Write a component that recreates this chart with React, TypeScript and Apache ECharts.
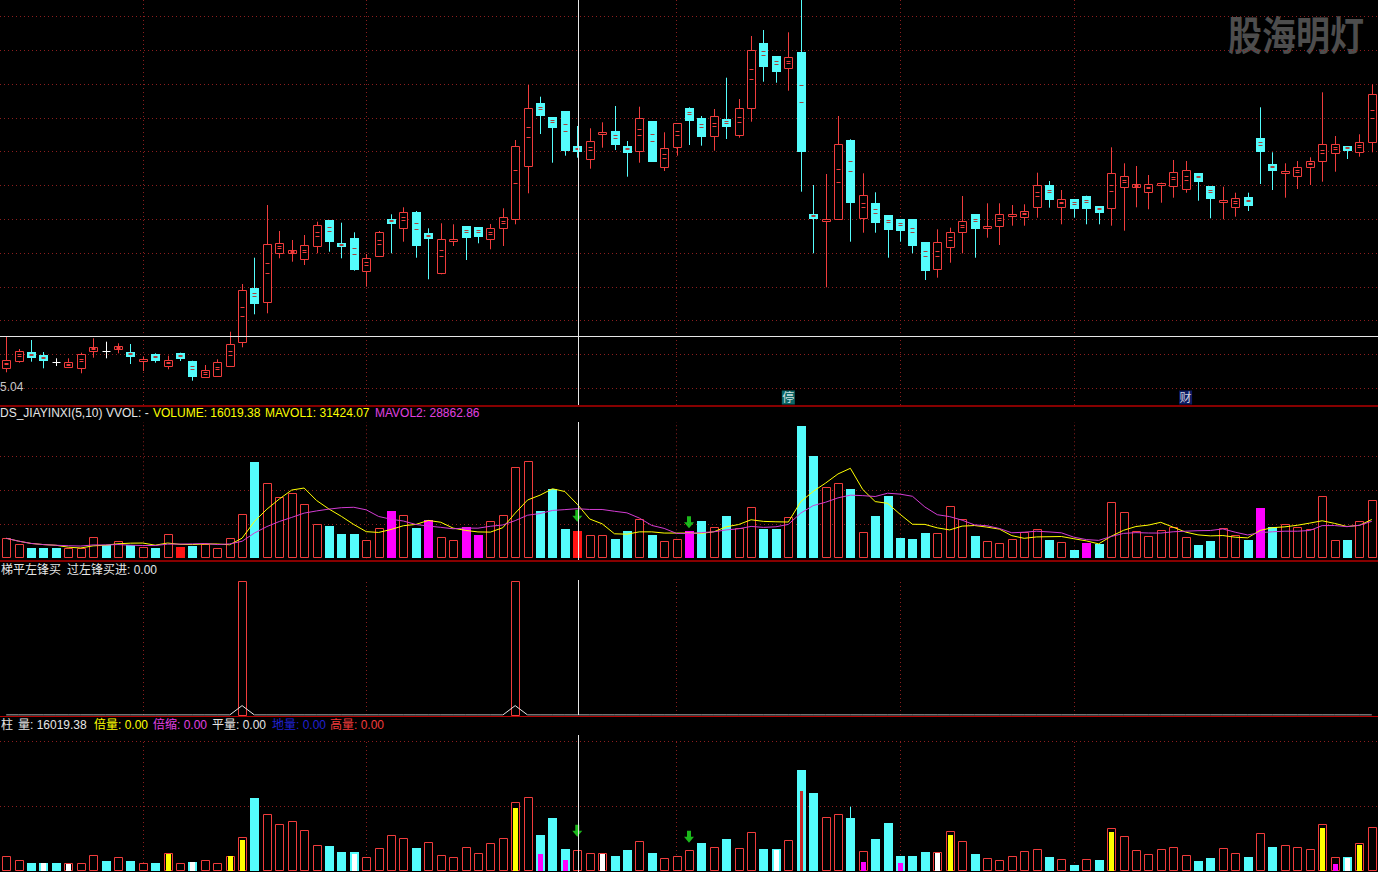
import React, { useEffect, useRef } from 'react';
import * as echarts from 'echarts';

// ---------------- data ----------------
const categories = Array.from({ length: 111 }, (_, i) => 'T' + (i + 1));

const opens = [5.243, 5.31, 5.397, 5.37, 5.297, 5.253, 5.243, 5.413, 5.41, 5.427,
  5.403, 5.325, 5.377, 5.263, 5.387, 5.31, 5.153, 5.163, 5.263, 5.503,
  6.037, 5.897, 6.393, 6.387, 6.327, 6.463, 6.72, 6.493, 6.537, 6.213,
  6.363, 6.727, 6.643, 6.8, 6.587, 6.187, 6.525, 6.66, 6.647, 6.527,
  6.643, 6.727, 7.26, 7.887, 7.747, 7.81, 7.46, 7.333, 7.59, 7.61,
  7.463, 7.413, 7.71, 7.253, 7.447, 7.837, 7.737, 7.563, 7.73, 7.57,
  7.837, 8.487, 8.36, 8.237, 8.403, 6.777, 6.725, 6.727, 7.52, 6.743,
  6.887, 6.77, 6.727, 6.73, 6.497, 6.227, 6.453, 6.597, 6.777, 6.655,
  6.663, 6.773, 6.753, 6.853, 7.07, 6.853, 6.927, 6.963, 6.86, 6.837,
  7.053, 7.053, 6.997, 7.083, 7.063, 7.027, 7.187, 7.06, 6.915, 6.853,
  6.947, 7.543, 7.28, 7.205, 7.163, 7.253, 7.313, 7.393, 7.46, 7.397, 7.497];
const closes = [5.32, 5.413, 5.343, 5.313, 5.297, 5.303, 5.38, 5.453, 5.41, 5.463,
  5.353, 5.33, 5.313, 5.32, 5.33, 5.153, 5.22, 5.297, 5.48, 6.02,
  5.877, 6.477, 6.487, 6.42, 6.467, 6.67, 6.503, 6.453, 6.22, 6.337,
  6.597, 6.677, 6.797, 6.46, 6.527, 6.527, 6.53, 6.543, 6.553, 6.643,
  6.747, 7.46, 7.837, 7.763, 7.643, 7.413, 7.403, 7.51, 7.598, 7.47,
  7.393, 7.737, 7.303, 7.437, 7.687, 7.713, 7.553, 7.76, 7.653, 7.837,
  8.42, 8.253, 8.203, 8.347, 7.403, 6.73, 6.73, 7.48, 6.893, 6.97,
  6.693, 6.62, 6.613, 6.463, 6.213, 6.497, 6.597, 6.71, 6.627, 6.66,
  6.777, 6.777, 6.81, 7.07, 6.92, 6.93, 6.827, 6.83, 6.787, 7.187,
  7.163, 7.08, 7.077, 7.087, 7.197, 7.22, 7.097, 6.93, 6.92, 6.943,
  6.863, 7.403, 7.213, 7.21, 7.247, 7.31, 7.477, 7.477, 7.413, 7.503, 7.977];
const highs = [5.553, 5.43, 5.52, 5.4, 5.337, 5.337, 5.393, 5.537, 5.503, 5.487,
  5.48, 5.353, 5.387, 5.363, 5.393, 5.313, 5.27, 5.327, 5.603, 6.08,
  6.343, 6.87, 6.61, 6.52, 6.57, 6.703, 6.72, 6.693, 6.597, 6.38,
  6.61, 6.777, 6.847, 6.81, 6.637, 6.687, 6.677, 6.66, 6.647, 6.68,
  6.837, 7.52, 8.07, 7.953, 7.747, 7.81, 7.66, 7.637, 7.697, 7.86,
  7.51, 7.853, 7.71, 7.597, 7.687, 7.847, 7.76, 7.83, 8.143, 7.93,
  8.56, 8.62, 8.36, 8.597, 8.93, 7.07, 7.18, 7.76, 7.527, 7.187,
  6.997, 6.77, 6.727, 6.73, 6.497, 6.627, 6.643, 6.96, 6.777, 6.887,
  6.887, 6.87, 6.877, 7.193, 7.11, 7.02, 6.927, 6.963, 6.86, 7.447,
  7.287, 7.26, 7.17, 7.093, 7.32, 7.31, 7.187, 7.06, 7.053, 6.993,
  6.993, 7.847, 7.397, 7.287, 7.31, 7.347, 7.997, 7.56, 7.46, 7.577, 8.077];
const lows = [5.197, 5.293, 5.303, 5.237, 5.26, 5.243, 5.187, 5.343, 5.337, 5.387,
  5.28, 5.21, 5.293, 5.227, 5.31, 5.113, 5.143, 5.163, 5.263, 5.447,
  5.777, 5.787, 6.337, 6.303, 6.27, 6.387, 6.403, 6.337, 6.213, 6.053,
  6.363, 6.387, 6.503, 6.343, 6.127, 6.177, 6.46, 6.32, 6.487, 6.427,
  6.46, 6.677, 6.987, 7.58, 7.293, 7.363, 7.343, 7.233, 7.443, 7.42,
  7.153, 7.293, 7.303, 7.21, 7.363, 7.47, 7.463, 7.413, 7.53, 7.543,
  7.703, 8.103, 8.093, 8.013, 7.003, 6.387, 6.047, 6.727, 6.503, 6.593,
  6.593, 6.343, 6.503, 6.387, 6.12, 6.143, 6.293, 6.387, 6.343, 6.543,
  6.47, 6.663, 6.663, 6.743, 6.843, 6.677, 6.743, 6.677, 6.677, 6.663,
  6.613, 6.847, 6.827, 6.893, 6.943, 6.993, 6.913, 6.737, 6.727, 6.753,
  6.81, 7.08, 7.02, 6.943, 7.03, 7.07, 7.103, 7.203, 7.33, 7.353, 7.397];

const volumes = [11740, 8390, 6050, 6020, 6080, 6030, 6060, 12330, 7810, 10390,
  7800, 6460, 6050, 14090, 6460, 7220, 8220, 6050, 11740, 25830,
  56530, 44030, 35810, 38160, 31700, 19960, 18960, 14260, 14300, 10740,
  17610, 27770, 25240, 18020, 22480, 12330, 10570, 18370, 13680, 21900,
  25240, 53420, 56940, 27770, 40680, 17200, 16019.38, 13680, 13700, 11330,
  16030, 22890, 13680, 10160, 11330, 16020, 21900, 18370, 24830, 18020,
  29940, 17200, 17220, 24070, 77660, 60050, 41680, 44030, 40680, 15260,
  24830, 36570, 11920, 11330, 14850, 14680, 30520, 23070, 13090, 10160,
  8810, 11330, 15260, 17200, 10740, 9390, 4870, 8980, 8390, 32870,
  27000, 16030, 13090, 16610, 18550, 12680, 7810, 10160, 17610, 13680,
  10740, 29530, 18370, 19960, 18380, 17020, 36390, 10740, 10750, 21900, 34050];

// r = up (hollow red), c = down (cyan), m = magenta, f = red filled
const volColorsA =
  'rrcccrrrcr' + 'crcrfcrrrr' + 'crrrrrcccr' + 'rmrcmrrmmr' + 'rrrcccfrrc' +
  'crcrrmcrcr' + 'rccrccrrcr' + 'cccccrrrcr' + 'rrrrcrcmcr' + 'rrrrrrccrr' + 'cmcrrrrrcrr';
const volColorsB =
  'rrcccrrrcr' + 'crcrrcrrrr' + 'crrrrrcccr' + 'rrrcrrrrrr' + 'rrrcccrrrc' +
  'crcrrrcrcr' + 'rccrccrrcr' + 'cccccrrrcr' + 'rrrrcrcrcr' + 'rrrrrrccrr' + 'crcrrrrrcrr';

const yellowInner: [number, number][] = [[13, 13100], [18, 11800], [19, 23800], [41, 48200], [76, 27700], [89, 30200], [106, 33300], [109, 20000]];
const whiteInner: [number, number][] = [[3, 5900], [5, 5400], [15, 6900], [28, 13100], [48, 13100], [62, 16100], [75, 14100], [108, 10000]];
const magentaInner: [number, number][] = [[43, 13100], [45, 8500], [69, 6900], [72, 6150], [107, 5400]];
const redThin: [number, number][] = [[64, 61500]];
const cyanThin: [number, number][] = [[68, 49500]];

const arrowsVol: [number, number][] = [[46, 21480], [55, 17610]];
const arrowsVol2: [number, number][] = [[46, 26380], [55, 21760]];

const signalIdx = [19, 41];
const signalBars = [1, 1];
const signalLine: [number, number][] = [[19, 0.07], [41, 0.07]];

const priceGridLines = [5.04, 5.378, 5.716, 6.054, 6.392, 6.73, 7.068, 7.406, 7.744, 8.082, 8.42, 8.758];
const volGridLines = [20000, 40000, 60000];
const vol2GridLines = [50000, 100000];
const monthStartIdx = [11, 29, 54, 72, 86];
const events = [{ idx: 63, price: 4.945, text: '停', color: '#0f7f7f' }, { idx: 95, price: 4.945, text: '财', color: '#10207a' }];

// ---------------- styles ----------------
const RED = '#f03c3c';
const RED_FILL = '#ff1414';
const CYAN = '#54fcfc';
const MAG = '#ff00ff';
const WHITE = '#ffffff';
const INNER_DARK = '#a8403c';
const GRIDC = '#8c1e1e';
const SEP = '#b40000';
const FONT = 'Arial, "Liberation Sans", "Noto Sans CJK SC", sans-serif';

const pxh = (v: number) => Math.round(v) + 0.5;
const seg = (x1: number, y1: number, x2: number, y2: number, c: string, w = 1) =>
  ({ type: 'line', shape: { x1, y1, x2, y2 }, style: { stroke: c, lineWidth: w } });

function renderCandle(params: any, api: any) {
  const i = params.dataIndex;
  const o = opens[i], c = closes[i], h = highs[i], l = lows[i];
  const x = pxh(api.coord([i, o])[0]);
  const yo = api.coord([i, o])[1];
  const yc = api.coord([i, c])[1];
  const yh = api.coord([i, h])[1];
  const yl = api.coord([i, l])[1];
  const hw = 4;
  const ch: any[] = [];
  if (o === c) {
    const y = pxh(yo);
    ch.push(seg(x, yh, x, yl, WHITE));
    ch.push(seg(x - hw, y, x + hw, y, WHITE));
  } else if (c > o) {
    const t = pxh(yc);
    let b = pxh(yo);
    if (b - t < 2) b = t + 2;
    if (yh < t) ch.push(seg(x, yh, x, t, RED));
    if (yl > b) ch.push(seg(x, b, x, yl, RED));
    ch.push({ type: 'rect', shape: { x: x - hw, y: t, width: 2 * hw, height: b - t }, style: { fill: '#000', stroke: RED, lineWidth: 1 } });
    if (b - t >= 3) {
      const y1 = pxh(t + (b - t) / 3 - 0.5), y2 = pxh(t + (b - t) / 2 - 0.5);
      ch.push(seg(x - hw + 2, y1, x + hw - 2, y1, RED));
      ch.push(seg(x - hw + 2, y2, x + hw - 2, y2, RED));
    }
  } else {
    const t = Math.round(yo);
    let b = Math.round(yc);
    if (b - t < 2) b = t + 2;
    ch.push(seg(x, yh, x, yl, CYAN));
    ch.push({ type: 'rect', shape: { x: x - hw - 0.5, y: t, width: 2 * hw + 1, height: b - t }, style: { fill: CYAN } });
    if (b - t >= 3) {
      const y1 = pxh(t + (b - t) / 3 - 0.5), y2 = pxh(t + (b - t) / 2 - 0.5);
      ch.push(seg(x - hw + 2, y1, x + hw - 2, y1, INNER_DARK));
      ch.push(seg(x - hw + 2, y2, x + hw - 2, y2, INNER_DARK));
    } else {
      const y1 = pxh(t + (b - t) / 2 - 0.5);
      ch.push(seg(x - hw + 2, y1, x + hw - 2, y1, RED, 1));
    }
  }
  return { type: 'group', children: ch };
}

function volBar(api: any, i: number, v: number, code: string) {
  const x0 = api.coord([i, v])[0];
  const y = Math.round(api.coord([i, v])[1]);
  const y0 = Math.round(api.coord([i, 0])[1]);
  const x = Math.round(x0) - 4;
  if (code === 'r') {
    return { type: 'rect', shape: { x: x + 0.5, y: y + 0.5, width: 8, height: Math.max(y0 - y - 1, 1) }, style: { fill: '#000', stroke: RED, lineWidth: 1 } };
  }
  const fill = code === 'c' ? CYAN : code === 'm' ? MAG : RED_FILL;
  return { type: 'rect', shape: { x, y, width: 9, height: y0 - y }, style: { fill } };
}

function renderVolA(params: any, api: any) {
  const i = params.dataIndex;
  return volBar(api, i, volumes[i], volColorsA[i]);
}

function innerBar(api: any, i: number, v: number, fill: string, w: number) {
  const x0 = Math.round(api.coord([i, v])[0]);
  const y = Math.round(api.coord([i, v])[1]);
  const y0 = Math.round(api.coord([i, 0])[1]);
  return { type: 'rect', shape: { x: x0 - Math.floor(w / 2), y, width: w, height: y0 - y }, style: { fill } };
}

function renderVolB(params: any, api: any) {
  const i = params.dataIndex;
  const ch: any[] = [];
  const x = pxh(api.coord([i, 0])[0]);
  const cThin = cyanThin.find((d) => d[0] === i);
  if (cThin) {
    const yt = api.coord([i, cThin[1]])[1];
    const yb = api.coord([i, volumes[i]])[1];
    ch.push(seg(x, yt, x, yb, CYAN));
  }
  ch.push(volBar(api, i, volumes[i], volColorsB[i]));
  const y = yellowInner.find((d) => d[0] === i);
  if (y) ch.push(innerBar(api, i, y[1], '#ffff00', 5));
  const w = whiteInner.find((d) => d[0] === i);
  if (w) ch.push(innerBar(api, i, w[1], '#ffffff', 5));
  const m = magentaInner.find((d) => d[0] === i);
  if (m) ch.push(innerBar(api, i, m[1], MAG, 5));
  const r = redThin.find((d) => d[0] === i);
  if (r) ch.push(innerBar(api, i, r[1], '#c8282a', 3));
  return { type: 'group', children: ch };
}

function renderSignal(params: any, api: any) {
  const i = signalIdx[params.dataIndex];
  const v = signalBars[params.dataIndex];
  const x = pxh(api.coord([i, v])[0]);
  const y = pxh(api.coord([i, v])[1]);
  const y0 = pxh(api.coord([i, 0])[1]);
  return { type: 'rect', shape: { x: x - 4, y, width: 8, height: y0 - y }, style: { fill: '#000', stroke: RED, lineWidth: 1 } };
}

const movingAvg = (n: number) =>
  volumes.map((_, i) => {
    const s = volumes.slice(Math.max(0, i - n + 1), i + 1);
    return +(s.reduce((a, b) => a + b, 0) / s.length).toFixed(2);
  });

const signalLineData = categories.map((_, i) => {
  const f = signalLine.find((d) => d[0] === i);
  return f ? f[1] : 0;
});

const dotted = { type: [1, 3] as any, color: GRIDC, width: 1 };
const gridMarks = (yVals: number[]) => ({
  silent: true,
  symbol: ['none', 'none'],
  label: { show: false },
  lineStyle: dotted,
  animation: false,
  data: [...yVals.map((v) => ({ yAxis: v })), ...monthStartIdx.map((v) => ({ xAxis: v }))],
});

const ARROW = 'path://M3,0 L7,0 L7,6 L10,6 L5,12 L0,6 L3,6 Z';

function buildOption(): any {
  const GL = -3.53;
  const GW = 1384.2;
  const grids = [
    { left: GL, width: GW, top: 0, height: 405 },
    { left: GL, width: GW, top: 422, height: 136.3 },
    { left: GL, width: GW, top: 581, height: 134 },
    { left: GL, width: GW, top: 741, height: 130 },
  ];
  const txt = (text: string, x: number, y: number, fill: string, extra: any = {}) => ({
    type: 'text', x, y, silent: true, z: 100,
    style: { text, fill, fontSize: 12, fontFamily: FONT, ...extra },
  });
  const hline = (y: number, c: string, w = 1) => ({ type: 'line', silent: true, z: 50, shape: { x1: 0, y1: y, x2: 1378, y2: y }, style: { stroke: c, lineWidth: w } });
  const vline = (x: number, y1: number, y2: number) => ({ type: 'line', silent: true, z: 60, shape: { x1: x, y1, x2: x, y2 }, style: { stroke: '#e6e6e6', lineWidth: 1 } });

  return {
    animation: false,
    backgroundColor: '#000000',
    grid: grids,
    xAxis: grids.map((_, g) => ({ type: 'category', gridIndex: g, data: categories, show: false, boundaryGap: true })),
    yAxis: [
      { type: 'value', gridIndex: 0, min: 4.87, max: 8.92, show: false },
      { type: 'value', gridIndex: 1, min: 0, max: 80000, show: false },
      { type: 'value', gridIndex: 2, min: 0, max: 1, show: false },
      { type: 'value', gridIndex: 3, min: 0, max: 100000, show: false },
    ],
    series: [
      // grid lines
      { type: 'line', xAxisIndex: 0, yAxisIndex: 0, data: closes, silent: true, showSymbol: false, lineStyle: { opacity: 0 }, z: 1, markLine: gridMarks(priceGridLines) },
      { type: 'line', xAxisIndex: 1, yAxisIndex: 1, data: volumes, silent: true, showSymbol: false, lineStyle: { opacity: 0 }, z: 1, markLine: gridMarks(volGridLines) },
      { type: 'line', xAxisIndex: 2, yAxisIndex: 2, data: signalLineData, silent: true, showSymbol: false, lineStyle: { opacity: 0 }, z: 1, markLine: gridMarks([]) },
      { type: 'line', xAxisIndex: 3, yAxisIndex: 3, data: volumes, silent: true, showSymbol: false, lineStyle: { opacity: 0 }, z: 1, markLine: gridMarks(vol2GridLines) },
      // candles
      {
        type: 'custom', name: 'K', xAxisIndex: 0, yAxisIndex: 0, z: 5, silent: true,
        renderItem: renderCandle,
        data: categories.map((_, i) => [i, opens[i], closes[i], lows[i], highs[i]]),
      },
      {
        type: 'scatter', xAxisIndex: 0, yAxisIndex: 0, z: 6, silent: true,
        symbol: 'rect', symbolSize: [13, 14],
        data: events.map((e) => ({ value: [e.idx, e.price], name: e.text, itemStyle: { color: e.color } })),
        label: { show: true, position: 'inside', formatter: '{b}', color: '#ffffff', fontSize: 12, fontFamily: FONT },
      },
      // volume panel
      {
        type: 'custom', name: 'VOLUME', xAxisIndex: 1, yAxisIndex: 1, z: 5, silent: true,
        renderItem: renderVolA, data: volumes.map((v, i) => [i, v]),
      },
      { type: 'line', name: 'MAVOL1', xAxisIndex: 1, yAxisIndex: 1, z: 7, data: movingAvg(5), showSymbol: false, silent: true, lineStyle: { color: '#ffff00', width: 1 } },
      { type: 'line', name: 'MAVOL2', xAxisIndex: 1, yAxisIndex: 1, z: 7, data: movingAvg(10), showSymbol: false, silent: true, lineStyle: { color: '#d23cd2', width: 1 } },
      {
        type: 'scatter', xAxisIndex: 1, yAxisIndex: 1, z: 8, silent: true, symbol: ARROW, symbolSize: [10, 12], symbolOffset: [0, '-50%'],
        itemStyle: { color: '#22e622' }, data: arrowsVol,
      },
      // signal panel
      {
        type: 'custom', name: '过左锋买进柱', xAxisIndex: 2, yAxisIndex: 2, z: 5, silent: true,
        renderItem: renderSignal, data: signalIdx.map((idx, k) => [idx, signalBars[k]]),
      },
      { type: 'line', name: '过左锋买进', xAxisIndex: 2, yAxisIndex: 2, z: 6, data: signalLineData, showSymbol: false, silent: true, lineStyle: { color: '#e6e6e6', width: 1 } },
      // volume 2 panel
      {
        type: 'custom', name: '量', xAxisIndex: 3, yAxisIndex: 3, z: 5, silent: true,
        renderItem: renderVolB, data: volumes.map((v, i) => [i, v]),
      },
      {
        type: 'scatter', xAxisIndex: 3, yAxisIndex: 3, z: 8, silent: true, symbol: ARROW, symbolSize: [10, 12], symbolOffset: [0, '-50%'],
        itemStyle: { color: '#22e622' }, data: arrowsVol2,
      },
    ],
    graphic: [
      hline(406, SEP, 1.5),
      hline(561, SEP, 1.5),
      hline(716.5, SEP, 1),
      { type: 'line', silent: true, z: 60, shape: { x1: 0, y1: 336.5, x2: 1378, y2: 336.5 }, style: { stroke: '#e6e6e6', lineWidth: 1 } },
      vline(578.5, 0, 405),
      vline(578.5, 422, 560),
      vline(578.5, 580, 715),
      vline(578.5, 735, 872),
      txt('5.04', 0, 381, '#c8c8c8'),
      {
        type: 'text', x: 1228, y: 13, scaleY: 1.18, silent: true, z: 0,
        style: { text: '股海明灯', fill: '#4d4d4d', fontSize: 34, fontWeight: 'bold', fontFamily: '"Noto Sans CJK SC", sans-serif' },
      },
      txt('DS_JIAYINXI(5,10)', 0, 407, '#e6e6e6'),
      txt('VVOL: -', 106, 407, '#e6e6e6'),
      txt('VOLUME: 16019.38', 153, 407, '#ffff00'),
      txt('MAVOL1: 31424.07', 265, 407, '#ffff00'),
      txt('MAVOL2: 28862.86', 375, 407, '#e040e0'),
      txt('梯平左锋买', 1, 564, '#e6e6e6'),
      txt('过左锋买进: 0.00', 67, 564, '#e6e6e6'),
      txt('柱', 1, 719, '#e6e6e6'),
      txt('量: 16019.38', 18, 719, '#e6e6e6'),
      txt('倍量: 0.00', 94, 719, '#ffff00'),
      txt('倍缩: 0.00', 153, 719, '#e040e0'),
      txt('平量: 0.00', 212, 719, '#e6e6e6'),
      txt('地量: 0.00', 272, 719, '#2020d0'),
      txt('高量: 0.00', 330, 719, '#f03c3c'),
    ],
  };
}

export default function App() {
  const ref = useRef<HTMLDivElement>(null);
  useEffect(() => {
    const chart = echarts.init(ref.current as HTMLDivElement, null, { renderer: 'svg' });
    chart.setOption(buildOption());
    return () => chart.dispose();
  }, []);
  return (
    <div
      ref={ref}
      style={{ position: 'fixed', left: 0, top: 0, width: 1378, height: 872, background: '#000' }}
    />
  );
}
